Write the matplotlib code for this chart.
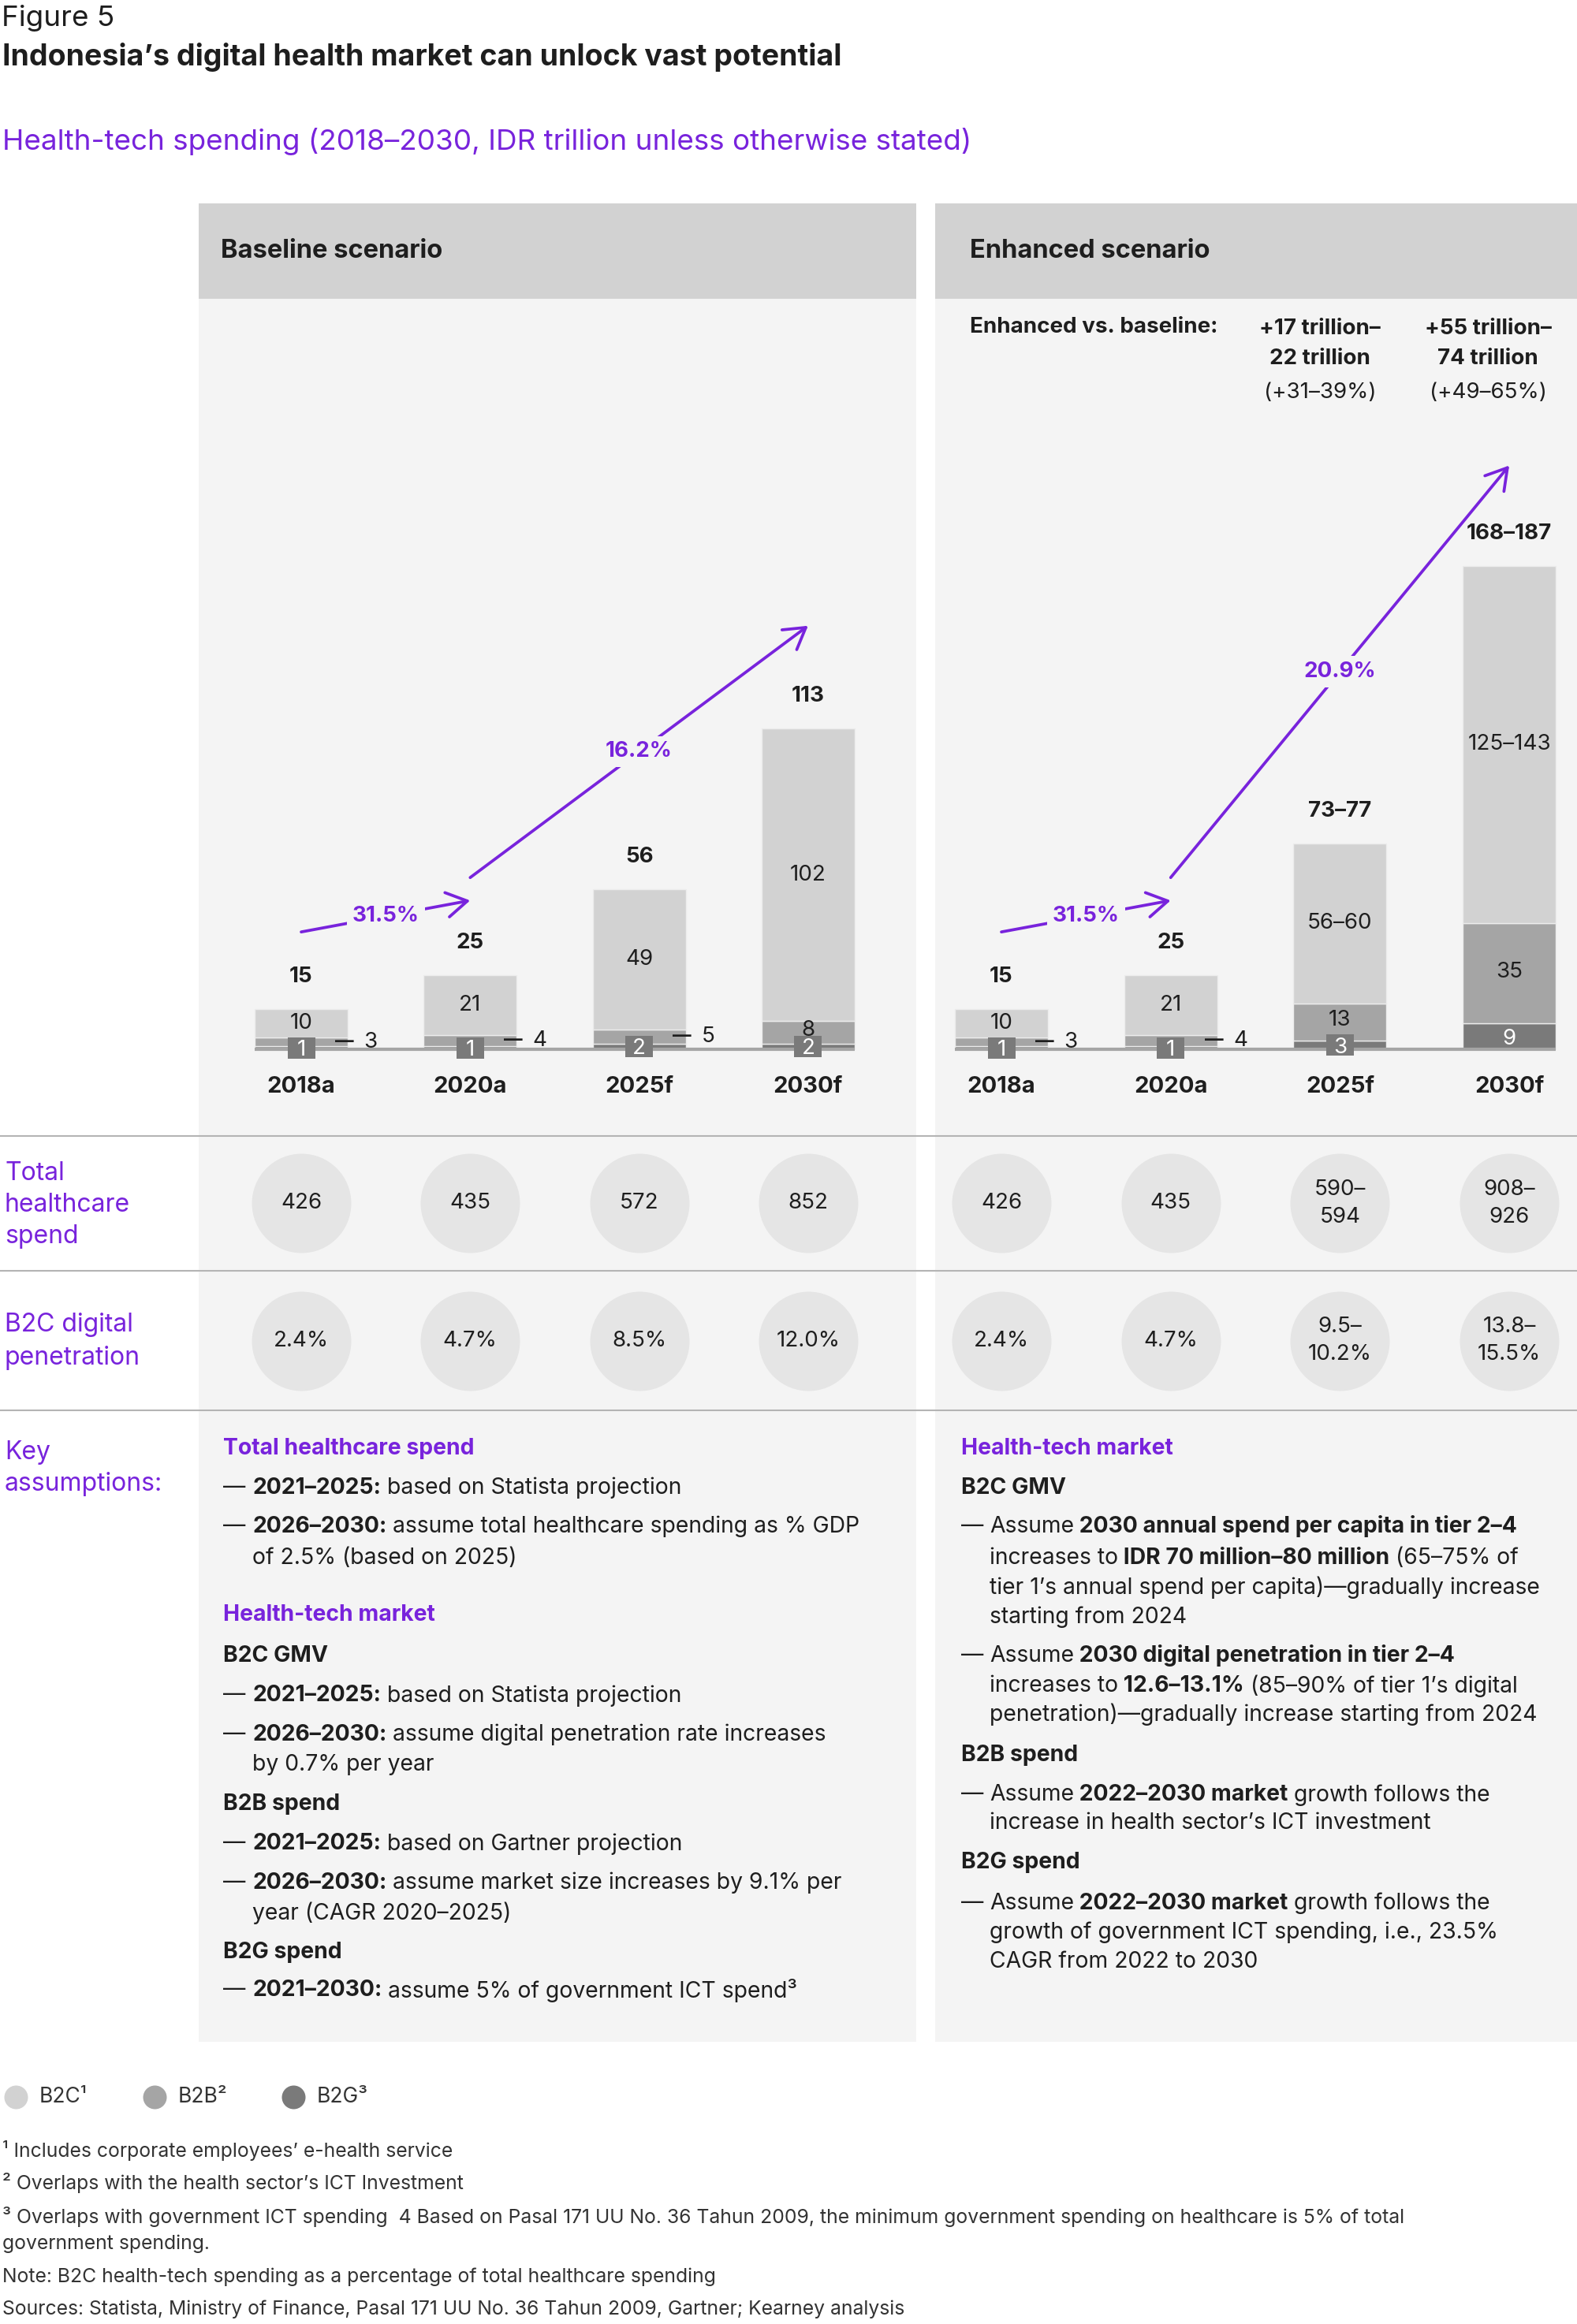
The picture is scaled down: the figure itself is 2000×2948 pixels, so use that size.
import numpy as np
import matplotlib.pyplot as plt
from matplotlib.patches import Rectangle

plt.rcParams['font.family'] = ['Inter', 'DejaVu Sans']

W, H = 2000, 2948
PURPLE = '#7823dc'
INK = '#1e1e1e'
C_B2C, C_B2B, C_B2G = '#d2d2d2', '#a5a5a5', '#7a7a7a'
PANEL = '#f4f4f4'

# ---- data ----
years = ['2018a', '2020a', '2025f', '2030f']

base_b2c = [10, 21, 49, 102]
base_b2b = [3, 4, 5, 8]
base_b2g = [1, 1, 2, 2]
base_total = [15, 25, 56, 113]

enh_b2c_low = [10, 21, 56, 125]
enh_b2c_high = [10, 21, 60, 143]
enh_b2b = [3, 4, 13, 35]
enh_b2g = [1, 1, 3, 9]
enh_total_low = [15, 25, 73, 168]
enh_total_high = [15, 25, 77, 187]

base_cagr = ['31.5%', '16.2%']
enh_cagr = ['31.5%', '20.9%']

base_health_spend = ['426', '435', '572', '852']
enh_health_spend = ['426', '435', '590–\n594', '908–\n926']
base_penetration = ['2.4%', '4.7%', '8.5%', '12.0%']
enh_penetration = ['2.4%', '4.7%', '9.5–\n10.2%', '13.8–\n15.5%']

enh_vs_base = ['+17 trillion–\n22 trillion', '+55 trillion–\n74 trillion']
enh_vs_base_pct = ['(+31–39%)', '(+49–65%)']

# ---- layout (pixels) ----
BASE_Y = 1331       # baseline of bars
PPU = 3.63          # pixels per IDR trillion
BAR_W = 0.55
CHART_TOP, ROW1, ROW2, ROW3 = 379, 1441, 1612, 1789
BODY = 20.4


def rng(lo, hi):
    return str(lo) if lo == hi else f'{lo}–{hi}'


fig = plt.figure(figsize=(W / 100, H / 100), dpi=100)
ov = fig.add_axes([0, 0, 1, 1])
ov.set_xlim(0, W)
ov.set_ylim(H, 0)
ov.axis('off')


def px_axes(x0, y0, x1, y1):
    a = fig.add_axes([x0 / W, 1 - y1 / H, (x1 - x0) / W, (y1 - y0) / H])
    a.axis('off')
    a.patch.set_visible(False)
    return a


# panels
for x0, x1 in [(252, 1162), (1186, 2000)]:
    ov.add_patch(Rectangle((x0, 258), x1 - x0, 2590 - 258, fc=PANEL, ec='none', zorder=0))
    ov.add_patch(Rectangle((x0, 258), x1 - x0, CHART_TOP - 258, fc='#d2d2d2', ec='none', zorder=0))
for y in [ROW1, ROW2, ROW3]:
    ov.plot([0, W], [y, y], color='#b4b4b4', lw=1.5, zorder=1)

ov.text(2, 23, 'Figure 5', fontsize=26.5, color=INK, va='center')
ov.text(3, 72, 'Indonesia’s digital health market can unlock vast potential',
        fontsize=27, fontweight='bold', color=INK, va='center')
ov.text(3, 179, 'Health-tech spending (2018–2030, IDR trillion unless otherwise stated)',
        fontsize=26.5, color=PURPLE, va='center')
ov.text(280, 318, 'Baseline scenario', fontsize=23.5, fontweight='bold', color=INK, va='center')
ov.text(1230, 318, 'Enhanced scenario', fontsize=23.5, fontweight='bold', color=INK, va='center')

ov.text(1230, 415, 'Enhanced vs. baseline:', fontsize=20, fontweight='bold', color=INK, va='center')
for xc, s, p in zip([1674, 1887], enh_vs_base, enh_vs_base_pct):
    ov.text(xc, 436, s, fontsize=20, fontweight='bold', color=INK, ha='center', va='center',
            linespacing=1.6)
    ov.text(xc, 498, p, fontsize=20, color=INK, ha='center', va='center')


def chart(x0, x1, c0, step, b2g, b2b, b2c_lo, b2c_hi, tot_lo, tot_hi, cagr, arrows,
          spend, pen):
    ax = px_axes(x0, CHART_TOP, x1, ROW1)
    ax.set_xlim((x0 - c0) / step, (x1 - c0) / step)
    ax.set_ylim(-(ROW1 - BASE_Y) / PPU, (BASE_Y - CHART_TOP) / PPU)
    x = np.arange(len(years))
    b2g = np.array(b2g)
    b2b = np.array(b2b)
    b2c = np.array(b2c_lo)
    ax.bar(x, b2g, BAR_W, color=C_B2G, ec='#ececec', lw=1, zorder=2)
    ax.bar(x, b2b, BAR_W, bottom=b2g, color=C_B2B, ec='#ececec', lw=1, zorder=2)
    ax.bar(x, b2c, BAR_W, bottom=b2g + b2b, color=C_B2C, ec='#ececec', lw=1, zorder=2)
    ax.plot([-BAR_W / 2, 3 + BAR_W / 2], [0, 0], color='#a5a5a5', lw=3, zorder=3,
            solid_capstyle='butt')
    top = b2g + b2b + b2c
    bw, bh = 35 / step, 27 / PPU   # label box size
    for i in x:
        ax.text(i, b2g[i] + b2b[i] + b2c[i] / 2, rng(b2c_lo[i], b2c_hi[i]), fontsize=20,
                color=INK, ha='center', va='center', zorder=5)
        if b2b[i] >= 8:
            ax.text(i, b2g[i] + b2b[i] / 2 + 0.6, str(b2b[i]), fontsize=20, color=INK,
                    ha='center', va='center', zorder=5)
        else:
            ax.text(i + 0.2, b2g[i] + b2b[i] / 2, '—', fontsize=17, fontweight='bold',
                    color=INK, ha='left', va='center', zorder=5)
            ax.text(i + 0.37, b2g[i] + b2b[i] / 2, str(b2b[i]), fontsize=20, color=INK,
                    ha='left', va='center', zorder=5)
        yc = max(b2g[i] / 2, 0.45)
        if b2g[i] < 6:
            ax.add_patch(Rectangle((i - bw / 2, yc - bh / 2), bw, bh, fc=C_B2G, ec='none',
                                   zorder=4))
        ax.text(i, yc, str(b2g[i]), fontsize=20, color='white',
                ha='center', va='center_baseline', zorder=5)
        ax.text(i, top[i] + 41 / PPU, rng(tot_lo[i], tot_hi[i]), fontsize=20,
                fontweight='bold', color=INK, ha='center', va='center')
        ax.text(i, -47 / PPU, years[i], fontsize=21, fontweight='bold', color=INK,
                ha='center', va='center')
    for (s, e), lab in zip(arrows, cagr):
        ax.annotate('', xy=e, xytext=s,
                    arrowprops=dict(arrowstyle='->,head_length=0.75,head_width=0.45',
                                    color=PURPLE, lw=2.7, shrinkA=0, shrinkB=0,
                                    mutation_scale=25))
        ax.text((s[0] + e[0]) / 2, (s[1] + e[1]) / 2, lab, fontsize=20, fontweight='bold',
                color=PURPLE, ha='center', va='center', zorder=6,
                bbox=dict(boxstyle='square,pad=0.25', fc=PANEL, ec='none'))

    for (ya, yb), vals in [((ROW1, ROW2), spend), ((ROW2, ROW3), pen)]:
        rx = px_axes(x0, ya, x1, yb)
        rx.set_xlim((x0 - c0) / step, (x1 - c0) / step)
        rx.set_ylim(-1, 1)
        rx.scatter(x, np.zeros(len(x)), s=(126 * 0.72) ** 2, color='#e5e5e5', lw=0)
        for i, v in enumerate(vals):
            rx.text(i, 0, v, fontsize=20, color=INK, ha='center', va='center',
                    linespacing=1.45)


chart(252, 1162, 382, 214.3, base_b2g, base_b2b, base_b2c, base_b2c,
      base_total, base_total, base_cagr, [((0, 41), (1, 52)), ((1, 60), (3, 148))],
      base_health_spend, base_penetration)
chart(1186, 2000, 1270, 214.7, enh_b2g, enh_b2b, enh_b2c_low, enh_b2c_high,
      enh_total_low, enh_total_high, enh_cagr, [((0, 41), (1, 52)), ((1, 60), (3, 204))],
      enh_health_spend, enh_penetration)

# row labels
for y, s in [(1488, 'Total'), (1528, 'healthcare'), (1568, 'spend'),
             (1680, 'B2C digital'), (1722, 'penetration'),
             (1842, 'Key'), (1882, 'assumptions:')]:
    ov.text(6, y, s, fontsize=23, color=PURPLE, va='center')

# key assumptions
left_notes = [
    (1837, 'head', [('Total healthcare spend', True)]),
    (1887, 'dash', [('2021–2025:', True), (' based on Statista projection', False)]),
    (1936, 'dash', [('2026–2030:', True), (' assume total healthcare spending as % GDP', False)]),
    (1976, 'cont', [('of 2.5% (based on 2025)', False)]),
    (2049, 'head', [('Health-tech market', True)]),
    (2100, 'sub', [('B2C GMV', True)]),
    (2151, 'dash', [('2021–2025:', True), (' based on Statista projection', False)]),
    (2200, 'dash', [('2026–2030:', True), (' assume digital penetration rate increases', False)]),
    (2239, 'cont', [('by 0.7% per year', False)]),
    (2288, 'sub', [('B2B spend', True)]),
    (2339, 'dash', [('2021–2025:', True), (' based on Gartner projection', False)]),
    (2388, 'dash', [('2026–2030:', True), (' assume market size increases by 9.1% per', False)]),
    (2427, 'cont', [('year (CAGR 2020–2025)', False)]),
    (2476, 'sub', [('B2G spend', True)]),
    (2525, 'dash', [('2021–2030:', True), (' assume 5% of government ICT spend³', False)]),
]
right_notes = [
    (1837, 'head', [('Health-tech market', True)]),
    (1887, 'sub', [('B2C GMV', True)]),
    (1936, 'dash', [('Assume', False), (' 2030 annual spend per capita in tier 2–4', True)]),
    (1976, 'cont', [('increases to', False), (' IDR 70 million–80 million', True), (' (65–75% of', False)]),
    (2014, 'cont', [('tier 1’s annual spend per capita)—gradually increase', False)]),
    (2051, 'cont', [('starting from 2024', False)]),
    (2100, 'dash', [('Assume', False), (' 2030 digital penetration in tier 2–4', True)]),
    (2139, 'cont', [('increases to', False), (' 12.6–13.1%', True), (' (85–90% of tier 1’s digital', False)]),
    (2175, 'cont', [('penetration)—gradually increase starting from 2024', False)]),
    (2226, 'sub', [('B2B spend', True)]),
    (2277, 'dash', [('Assume', False), (' 2022–2030 market', True), (' growth follows the', False)]),
    (2312, 'cont', [('increase in health sector’s ICT investment', False)]),
    (2363, 'sub', [('B2G spend', True)]),
    (2414, 'dash', [('Assume', False), (' 2022–2030 market', True), (' growth follows the', False)]),
    (2451, 'cont', [('growth of government ICT spending, i.e., 23.5%', False)]),
    (2489, 'cont', [('CAGR from 2022 to 2030', False)]),
]

rend = fig.canvas.get_renderer()


def rich(x, y, parts, color=INK, size=BODY):
    for s, b in parts:
        t = ov.text(x, y, s, fontsize=size, fontweight='bold' if b else 'normal',
                    color=color, ha='left', va='center')
        x += t.get_window_extent(rend).width


for notes, x0, xi in [(left_notes, 283, 320), (right_notes, 1219, 1255)]:
    for y, kind, parts in notes:
        if kind == 'head':
            rich(x0, y, parts, color=PURPLE)
        elif kind == 'sub':
            rich(x0, y, parts)
        elif kind == 'dash':
            ov.text(x0, y, '—', fontsize=BODY, color=INK, va='center')
            rich(xi, y, parts)
        else:
            rich(xi, y, parts)

# legend
for xc, col, lab in [(20, C_B2C, 'B2C¹'), (196, C_B2B, 'B2B²'), (372, C_B2G, 'B2G³')]:
    ov.scatter([xc], [2660], s=(30 * 0.72) ** 2, color=col, lw=0)
    ov.text(xc + 30, 2660, lab, fontsize=19, color='#333333', va='center')

foot = [
    (2728, '¹ Includes corporate employees’ e-health service'),
    (2769, '² Overlaps with the health sector’s ICT Investment'),
    (2812, '³ Overlaps with government ICT spending  4 Based on Pasal 171 UU No. 36 Tahun 2009, '
           'the minimum government spending on healthcare is 5% of total'),
    (2846, 'government spending.'),
    (2888, 'Note: B2C health-tech spending as a percentage of total healthcare spending'),
    (2929, 'Sources: Statista, Ministry of Finance, Pasal 171 UU No. 36 Tahun 2009, Gartner; '
           'Kearney analysis'),
]
for y, s in foot:
    ov.text(3, y, s, fontsize=17.8, color='#333333', va='center')

fig.savefig('out.png', dpi=100, facecolor='white')
